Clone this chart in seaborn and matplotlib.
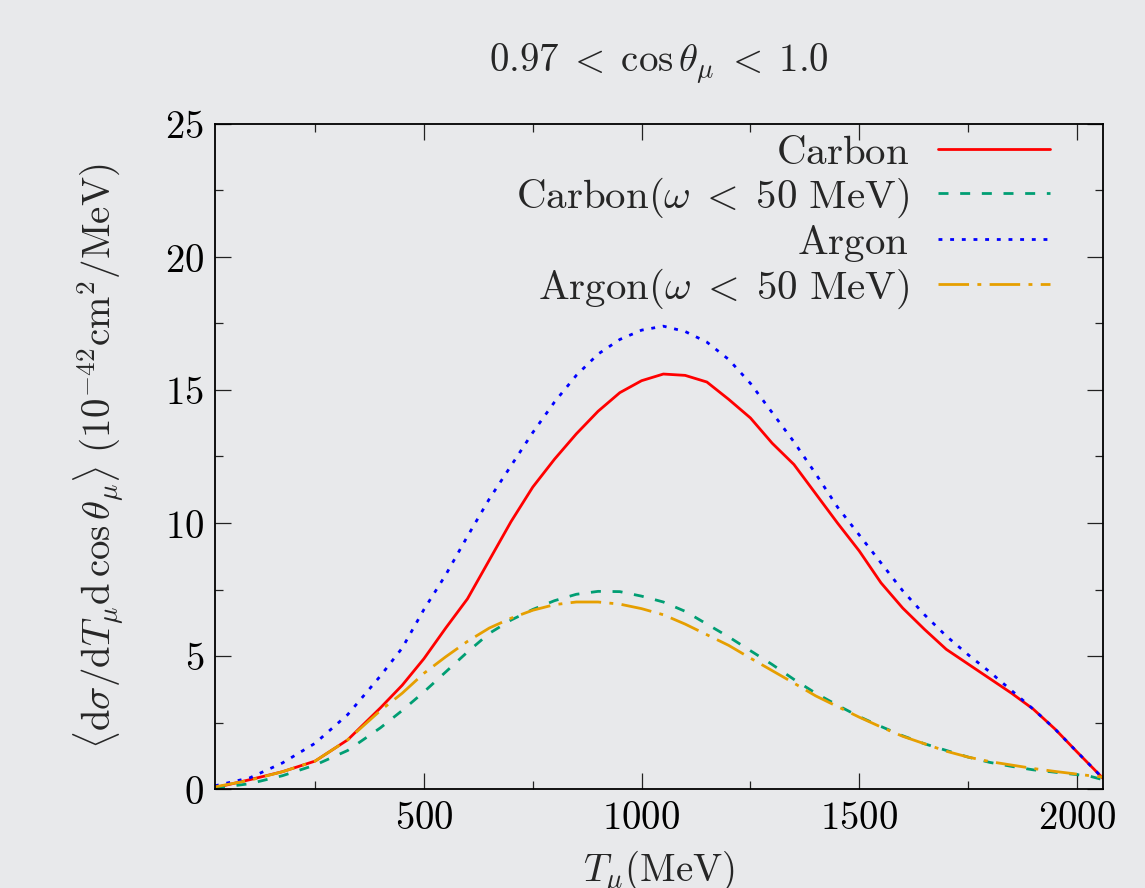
import matplotlib
matplotlib.use("Agg")
import matplotlib.pyplot as plt
from matplotlib.ticker import MultipleLocator, FuncFormatter
import seaborn as sns

# kinetic energy grid (MeV)
T_mu = [20, 100, 175, 250, 325, 400, 450, 500, 550, 600, 650, 700, 750, 800,
        850, 900, 950, 1000, 1050, 1100, 1150, 1200, 1250, 1300, 1350, 1400,
        1450, 1500, 1550, 1600, 1650, 1700, 1750, 1800, 1850, 1900, 1950,
        2000, 2030, 2060]

carbon = [0.05, 0.35, 0.65, 1.05, 1.85, 3.05, 3.9, 4.9, 6.05, 7.15, 8.6,
          10.05, 11.35, 12.4, 13.35, 14.2, 14.9, 15.35, 15.6, 15.55, 15.3,
          14.65, 13.95, 13.0, 12.2, 11.1, 10.0, 8.95, 7.75, 6.8, 6.0, 5.25,
          4.7, 4.15, 3.6, 3.0, 2.25, 1.4, 0.9, 0.4]

carbon_w50 = [0.03, 0.2, 0.5, 0.9, 1.45, 2.3, 2.95, 3.65, 4.4, 5.15, 5.85,
              6.35, 6.75, 7.08, 7.32, 7.43, 7.42, 7.25, 7.03, 6.68, 6.2,
              5.72, 5.2, 4.68, 4.12, 3.6, 3.15, 2.72, 2.35, 2.0, 1.7, 1.45,
              1.2, 1.0, 0.85, 0.72, 0.63, 0.54, 0.48, 0.35]

argon = [0.12, 0.42, 0.98, 1.72, 2.8, 4.25, 5.3, 6.75, 8.05, 9.5, 10.9,
         12.15, 13.4, 14.55, 15.55, 16.35, 16.9, 17.25, 17.4, 17.2, 16.8,
         16.15, 15.25, 14.15, 13.05, 11.85, 10.6, 9.55, 8.5, 7.45, 6.55,
         5.75, 5.05, 4.4, 3.7, 3.0, 2.25, 1.4, 0.9, 0.4]

argon_w50 = [0.08, 0.33, 0.65, 1.05, 1.85, 2.95, 3.6, 4.35, 4.97, 5.55, 6.05,
             6.42, 6.72, 6.93, 7.03, 7.03, 6.95, 6.78, 6.55, 6.2, 5.8, 5.4,
             4.92, 4.45, 3.98, 3.5, 3.1, 2.7, 2.33, 1.98, 1.7, 1.42, 1.2,
             1.03, 0.9, 0.77, 0.66, 0.56, 0.5, 0.45]

labels = [r"$\mathrm{Carbon}$",
          r"$\mathrm{Carbon}(\omega\; <\; 50\ \mathrm{MeV})$",
          r"$\mathrm{Argon}$",
          r"$\mathrm{Argon}(\omega\; <\; 50\ \mathrm{MeV})$"]

bg = "#e8e9eb"
sns.set_theme(style="ticks")
plt.rcParams["mathtext.fontset"] = "cm"
plt.rcParams["font.family"] = ["DejaVu Serif"]

fig = plt.figure(figsize=(11.45, 8.88), dpi=100, facecolor=bg)
ax = fig.add_axes([215 / 1145, 1 - 789 / 888, 888 / 1145, 665 / 888])
ax.set_facecolor(bg)

lw = 2.0
sns.lineplot(x=T_mu, y=carbon, ax=ax, color="#ff0000", lw=lw,
             linestyle="-", label=labels[0])
sns.lineplot(x=T_mu, y=carbon_w50, ax=ax, color="#009e73", lw=lw,
             linestyle=(0, (3.6, 4.2)), label=labels[1])
sns.lineplot(x=T_mu, y=argon, ax=ax, color="#0000ff", lw=lw,
             linestyle=(0, (1.4, 2.8)), label=labels[2])
sns.lineplot(x=T_mu, y=argon_w50, ax=ax, color="#e69f00", lw=lw,
             linestyle=(0, (11, 3, 1.4, 3)), label=labels[3])

ax.set_xlim(20, 2060)
ax.set_ylim(0, 25)
ax.xaxis.set_major_locator(MultipleLocator(500))
ax.xaxis.set_minor_locator(MultipleLocator(250))
ax.yaxis.set_major_locator(MultipleLocator(5))
ax.yaxis.set_minor_locator(MultipleLocator(2.5))
fmt = FuncFormatter(lambda v, p: r"$%d$" % round(v))
ax.xaxis.set_major_formatter(fmt)
ax.yaxis.set_major_formatter(fmt)

ax.tick_params(which="both", direction="in", top=True, right=True,
               colors="#222222", labelcolor="black", labelsize=28, width=0.9)
ax.tick_params(which="major", length=11.5, pad=8)
ax.tick_params(which="minor", length=5.8)
for s in ax.spines.values():
    s.set_linewidth(1.3)
    s.set_color("black")

ax.set_title(r"$0.97\; <\; \cos\theta_\mu\; <\; 1.0$", fontsize=28, pad=37)
ax.set_xlabel(r"$T_\mu(\mathrm{MeV})$", fontsize=28)
ax.set_ylabel(r"$\langle \mathrm{d}\sigma/\mathrm{d}T_\mu\mathrm{d}\,\cos\theta_\mu\rangle\ "
              r"(10^{-42}\mathrm{cm}^2/\mathrm{MeV})$", fontsize=28)
ax.xaxis.set_label_coords(0.5, -0.09)
ax.yaxis.set_label_coords(-0.10, 0.5)

handles, _ = ax.get_legend_handles_labels()
ax.legend(handles, labels, loc="upper right", bbox_to_anchor=(0.9403, 0.987),
          frameon=False, markerfirst=False, fontsize=29.5, borderpad=0,
          borderaxespad=0, handlelength=2.73, handletextpad=0.71,
          labelspacing=0.07)

fig.savefig("out.png", dpi=100, facecolor=bg)
